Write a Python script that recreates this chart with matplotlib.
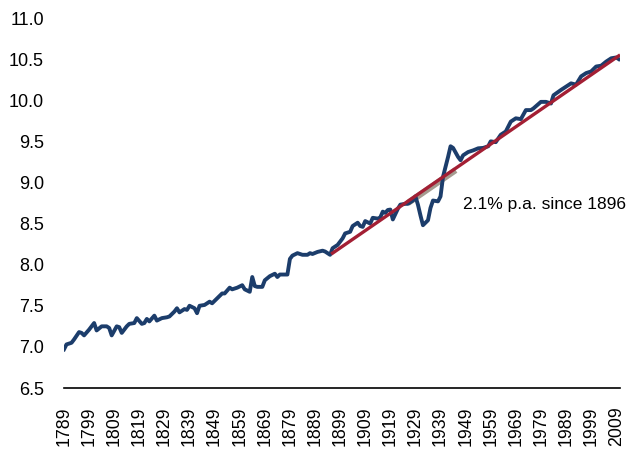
import numpy as np
import matplotlib
matplotlib.use('Agg')
import matplotlib.pyplot as plt

# Series (log level), irregular years
years = [1789, 1790, 1792, 1793, 1795, 1796, 1797, 1799, 1801, 1802, 1804, 1806,
         1807, 1808, 1810, 1811, 1812, 1814, 1815, 1817, 1818, 1820, 1821, 1822,
         1823, 1825, 1826, 1828, 1830, 1831, 1833, 1834, 1835, 1837, 1838, 1839,
         1841, 1842, 1843, 1845, 1847, 1848, 1850, 1852, 1853, 1855, 1856, 1858,
         1860, 1861, 1863, 1864, 1865, 1866, 1868, 1869, 1871, 1873, 1874, 1875,
         1878, 1879, 1880, 1882, 1884, 1886, 1887, 1888, 1890, 1892, 1893, 1894,
         1895, 1896, 1898, 1900, 1901, 1903, 1904, 1906, 1907, 1908, 1909, 1911,
         1912, 1914, 1915, 1916, 1917, 1918, 1919, 1920, 1922, 1923, 1925, 1926,
         1928, 1929, 1930, 1931, 1932, 1934, 1935, 1936, 1938, 1939, 1940, 1942,
         1943, 1944, 1946, 1947, 1948, 1950, 1952, 1954, 1956, 1958, 1959, 1961,
         1963, 1965, 1967, 1969, 1971, 1973, 1975, 1976, 1979, 1981, 1983, 1984,
         1987, 1989, 1991, 1993, 1995, 1997, 1999, 2001, 2003, 2005, 2007, 2009,
         2010]
values = [6.97, 7.03, 7.05, 7.09, 7.18, 7.17, 7.14, 7.21, 7.29, 7.20, 7.25, 7.25,
          7.23, 7.14, 7.25, 7.24, 7.17, 7.25, 7.28, 7.29, 7.35, 7.28, 7.29, 7.34,
          7.31, 7.38, 7.32, 7.35, 7.36, 7.37, 7.43, 7.47, 7.42, 7.46, 7.45, 7.50,
          7.47, 7.41, 7.50, 7.51, 7.55, 7.53, 7.59, 7.65, 7.65, 7.72, 7.70, 7.72,
          7.75, 7.70, 7.67, 7.85, 7.74, 7.73, 7.73, 7.81, 7.86, 7.89, 7.85, 7.88,
          7.88, 8.07, 8.11, 8.14, 8.12, 8.12, 8.14, 8.13, 8.155, 8.17, 8.16, 8.14,
          8.12, 8.20, 8.24, 8.32, 8.38, 8.40, 8.47, 8.51, 8.47, 8.46, 8.53, 8.50,
          8.57, 8.56, 8.575, 8.645, 8.63, 8.665, 8.67, 8.55, 8.68, 8.73, 8.74, 8.74,
          8.78, 8.83, 8.73, 8.60, 8.48, 8.54, 8.69, 8.78, 8.77, 8.83, 9.07, 9.31,
          9.44, 9.42, 9.31, 9.27, 9.33, 9.37, 9.39, 9.415, 9.42, 9.44, 9.50, 9.49,
          9.58, 9.62, 9.74, 9.78, 9.77, 9.88, 9.88, 9.90, 9.98, 9.98, 9.96, 10.06,
          10.125, 10.165, 10.205, 10.19, 10.29, 10.33, 10.35, 10.41, 10.42, 10.47, 10.51, 10.52,
          10.50]

# Trend since 1896 (2.1% p.a.)
trend_years = [1896, 2010]
trend_values = [8.14, 10.54]

# Grey band under the trend in the inter-war years
band_years = [1926, 1945]
band_values = [8.75, 9.15]

tick_years = list(range(1789, 2010, 10))

plt.rcParams['font.family'] = ['Liberation Sans', 'DejaVu Sans']

fig = plt.figure(figsize=(6.3, 4.49), dpi=100)
ax = fig.add_axes([64 / 630, 1 - 388 / 449, 556 / 630, 370 / 449])

ax.plot(band_years, band_values, color='#a59c90', lw=4.5, solid_capstyle='butt', zorder=1)
ax.plot(years, values, color='#1c3d6b', lw=2.8, zorder=2)
ax.plot(trend_years, trend_values, color='#a31f34', lw=2.4, zorder=3)

ax.text(1947.8, 8.73, '2.1% p.a. since 1896', fontsize=12.5, ha='left', va='center')

ax.set_xlim(1789, 2010.5)
ax.set_ylim(6.5, 11.0)
ax.set_yticks(np.arange(6.5, 11.01, 0.5))
ax.set_yticklabels([f'{v:.1f}' for v in np.arange(6.5, 11.01, 0.5)])
ax.set_xticks(tick_years)
ax.set_xticklabels([str(y) for y in tick_years])
ax.tick_params(axis='y', length=0, pad=14.5, labelsize=13)
ax.tick_params(axis='x', length=0, pad=13, labelsize=12.8, labelrotation=90)

for side in ['top', 'right', 'left']:
    ax.spines[side].set_visible(False)
ax.spines['bottom'].set_linewidth(1.2)
ax.spines['bottom'].set_position(('data', 6.5))

fig.savefig('out.png', dpi=100)
